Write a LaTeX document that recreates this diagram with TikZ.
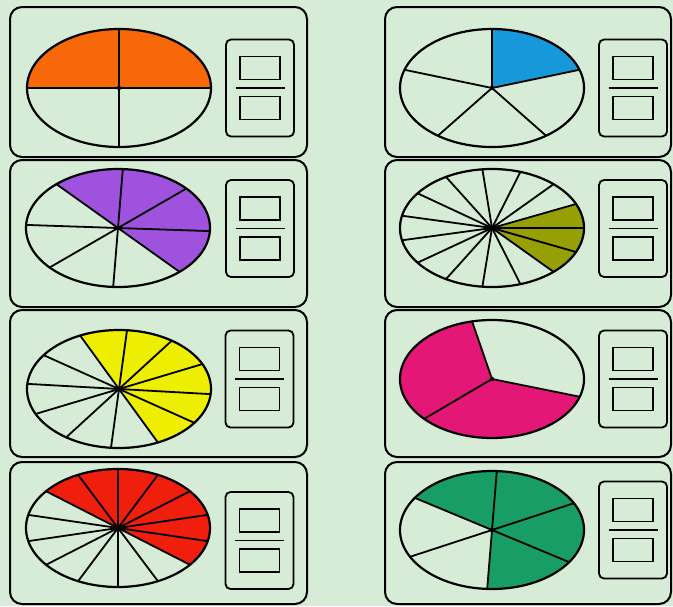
\documentclass[tikz,border=0pt]{standalone}
\definecolor{bgc}{RGB}{214,236,214}
\definecolor{corange}{RGB}{247,105,8}
\definecolor{cblue}{RGB}{22,152,218}
\definecolor{cpurple}{RGB}{158,82,222}
\definecolor{colive}{RGB}{150,160,5}
\definecolor{cyellow}{RGB}{238,238,0}
\definecolor{cmagenta}{RGB}{228,22,118}
\definecolor{cred}{RGB}{240,30,12}
\definecolor{cgreen}{RGB}{24,158,100}
\newcommand\fracbox[3]{%
  \node[fbox] (#1) at (#2,#3) {};
  \node[sq] (#1-num) at (#2,{#3-20}) {};
  \node[sq] (#1-den) at (#2,{#3+20}) {};
  \coordinate (#1-l) at ({#2-24.5},#3);
  \coordinate (#1-r) at ({#2+24.5},#3);
  \draw[fline] (#1-l) -- (#1-r);}
\newcommand\mypie[8]{%
  \coordinate (#1) at (#2,#3);
  \begin{scope}[shift={(#1)},yscale=-1]
    \fill[#8] (0,0) -- ({92*cos(#6)},{59*sin(#6)}) arc[start angle=#6, delta angle={#7*360/#4}, x radius=92, y radius=59] -- cycle;
    \foreach \i in {1,...,#4} \draw[spoke] (0,0) -- ({92*cos(#5+\i*360/#4)},{59*sin(#5+\i*360/#4)});
    \draw[rim] (0,0) ellipse[x radius=92, y radius=59];
    \fill (0,0) circle[radius=2.2];
  \end{scope}}
\begin{document}
\begin{tikzpicture}[x=1pt,y=-1pt,
  panel/.style={draw=black, line width=2pt, rounded corners=12pt, fill=bgc, inner sep=0pt},
  fbox/.style={draw=black, line width=1.8pt, rounded corners=5pt, minimum width=68pt, minimum height=97pt, inner sep=0pt},
  sq/.style={draw=black, line width=1.8pt, minimum width=40pt, minimum height=23pt, inner sep=0pt},
  fline/.style={line width=1.8pt},
  spoke/.style={line width=1.8pt},
  rim/.style={line width=2.2pt}]
\useasboundingbox (0,0) rectangle (673,606);
\fill[bgc] (0,0) rectangle (673,606);
% panels
\node[panel, minimum width=297pt, minimum height=150pt] (p1) at (158.5,82) {};
\node[panel, minimum width=286pt, minimum height=150pt] (p2) at (528,82) {};
\node[panel, minimum width=297pt, minimum height=147pt] (p3) at (158.5,233.5) {};
\node[panel, minimum width=286pt, minimum height=147pt] (p4) at (528,233.5) {};
\node[panel, minimum width=297pt, minimum height=147pt] (p5) at (158.5,383.5) {};
\node[panel, minimum width=286pt, minimum height=147pt] (p6) at (528,383.5) {};
\node[panel, minimum width=297pt, minimum height=142pt] (p7) at (158.5,533) {};
\node[panel, minimum width=286pt, minimum height=142pt] (p8) at (528,533) {};
% pies: name, cx, cy, n, offset, start, count, colour
\mypie{e1}{119}{88}{4}{0}{0}{2}{corange}
\mypie{e2}{492}{88}{5}{18}{18}{1}{cblue}
\mypie{e3}{118}{228}{8}{-3}{-48}{4}{cpurple}
\mypie{e4}{492}{228}{15}{0}{-48}{3}{colive}
\mypie{e5}{119}{389}{12}{-5}{-65}{6}{cyellow}
\mypie{e6}{492}{379}{3}{-17.5}{102.5}{2}{cmagenta}
\mypie{e7}{118}{528}{14}{12.857}{-38.571}{7}{cred}
\mypie{e8}{492}{530}{6}{27}{-93}{4}{cgreen}
% fraction boxes
\fracbox{f1}{260}{88}
\fracbox{f2}{633}{88}
\fracbox{f3}{260}{228.5}
\fracbox{f4}{633}{228.5}
\fracbox{f5}{259.5}{379}
\fracbox{f6}{633}{379}
\fracbox{f7}{259.5}{540.5}
\fracbox{f8}{633}{530}
\end{tikzpicture}
\end{document}
